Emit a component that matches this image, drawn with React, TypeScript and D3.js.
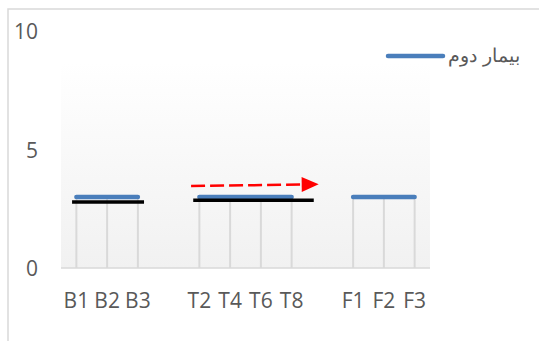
import React from "react";
import * as d3 from "d3";

// Categories along the x axis; empty strings are spacer slots between groups
const categories = ["B1", "B2", "B3", "", "T2", "T4", "T6", "T8", "", "F1", "F2", "F3"];
// Series "بیمار دوم" (null = gap between groups)
const seriesName = "بیمار دوم";
const seriesValues: (number | null)[] = [3, 3, 3, null, 3, 3, 3, 3, null, 3, 3, 3];
const yTicks = [0, 5, 10];

// Hand-drawn annotations, in category-index / value units
const blackBars = [
  { x0: -0.14, x1: 2.2, y: 2.78 },
  { x0: 3.8, x1: 7.72, y: 2.86 },
];
const redArrow = { x0: 3.73, y0: 3.46, x1: 7.88, y1: 3.53 };

const W = 539;
const H = 341;
const plot = { left: 61, right: 430, top: 62, bottom: 268 };

export default function App() {
  const x = d3
    .scaleBand<number>()
    .domain(categories.map((_, i) => i))
    .range([plot.left, plot.right]);
  const xc = (i: number) => (x(i) as number) + x.bandwidth() / 2;
  // continuous version of the category axis for annotations
  const xi = d3
    .scaleLinear()
    .domain([0, categories.length - 1])
    .range([xc(0), xc(categories.length - 1)]);
  const y = d3.scaleLinear().domain([0, 10]).range([plot.bottom, 31]);

  const line = d3
    .line<number | null>()
    .defined((d) => d !== null)
    .x((_, i) => xc(i))
    .y((d) => y(d as number));

  const blue = "#4a7ebb";
  const grid = "#d9d9d9";
  const textColor = "#595959";
  const font = "'Open Sans', sans-serif";

  // red arrow geometry
  const ax0 = xi(redArrow.x0);
  const ay0 = y(redArrow.y0);
  const ax1 = xi(redArrow.x1);
  const ay1 = y(redArrow.y1);
  const headLen = 17;
  const headHalf = 7.5;
  const ang = Math.atan2(ay1 - ay0, ax1 - ax0);
  const bx = ax1 - headLen * Math.cos(ang);
  const by = ay1 - headLen * Math.sin(ang);
  const px = -Math.sin(ang) * headHalf;
  const py = Math.cos(ang) * headHalf;

  return (
    <svg
      width={W}
      height={H}
      style={{ position: "absolute", left: 0, top: 0, background: "#fff" }}
    >
      <defs>
        <linearGradient id="plotFill" x1="0" y1="0" x2="0" y2="1">
          <stop offset="0%" stopColor="#ffffff" />
          <stop offset="100%" stopColor="#f1f1f1" />
        </linearGradient>
      </defs>
      {/* chart frame */}
      <rect x={8} y={9} width={700} height={500} fill="none" stroke={grid} strokeWidth={1.5} />
      {/* plot area */}
      <rect
        x={plot.left}
        y={plot.top}
        width={plot.right - plot.left}
        height={plot.bottom - plot.top}
        fill="url(#plotFill)"
      />
      {/* y tick labels */}
      {yTicks.map((t) => (
        <text
          key={t}
          x={38}
          y={y(t) + 8}
          textAnchor="end"
          fontFamily={font}
          fontSize={21}
          fill={textColor}
        >
          {t}
        </text>
      ))}
      {/* drop lines */}
      {seriesValues.map((v, i) =>
        v === null ? null : (
          <line
            key={i}
            x1={xc(i)}
            x2={xc(i)}
            y1={y(v)}
            y2={plot.bottom}
            stroke={grid}
            strokeWidth={2}
          />
        )
      )}
      {/* x axis */}
      <line x1={plot.left} x2={plot.right} y1={plot.bottom} y2={plot.bottom} stroke={grid} strokeWidth={1.5} />
      {/* x labels */}
      {categories.map((c, i) =>
        c ? (
          <text
            key={i}
            x={xc(i)}
            y={307.5}
            textAnchor="middle"
            fontFamily={font}
            fontSize={21}
            fill={textColor}
          >
            {c}
          </text>
        ) : null
      )}
      {/* series line */}
      <path
        d={line(seriesValues) || ""}
        fill="none"
        stroke={blue}
        strokeWidth={4.5}
        strokeLinecap="round"
      />
      {/* black annotation bars */}
      {blackBars.map((b, i) => (
        <line
          key={i}
          x1={xi(b.x0)}
          x2={xi(b.x1)}
          y1={y(b.y)}
          y2={y(b.y)}
          stroke="#000"
          strokeWidth={3.5}
        />
      ))}
      {/* red dashed arrow */}
      <line
        x1={ax0}
        y1={ay0}
        x2={bx}
        y2={by}
        stroke="#ff0000"
        strokeWidth={2.5}
        strokeDasharray="14 5"
      />
      <polygon
        points={`${ax1},${ay1} ${bx + px},${by + py} ${bx - px},${by - py}`}
        fill="#ff0000"
      />
      {/* legend */}
      <line x1={388} x2={443} y1={56} y2={56} stroke={blue} strokeWidth={4.5} strokeLinecap="round" />
      <text
        x={520}
        y={62}
        textAnchor="end"
        fontFamily="'DejaVu Sans', sans-serif"
        fontSize={19}
        fontWeight={300}
        fill={textColor}
      >
        {seriesName}
      </text>
    </svg>
  );
}
